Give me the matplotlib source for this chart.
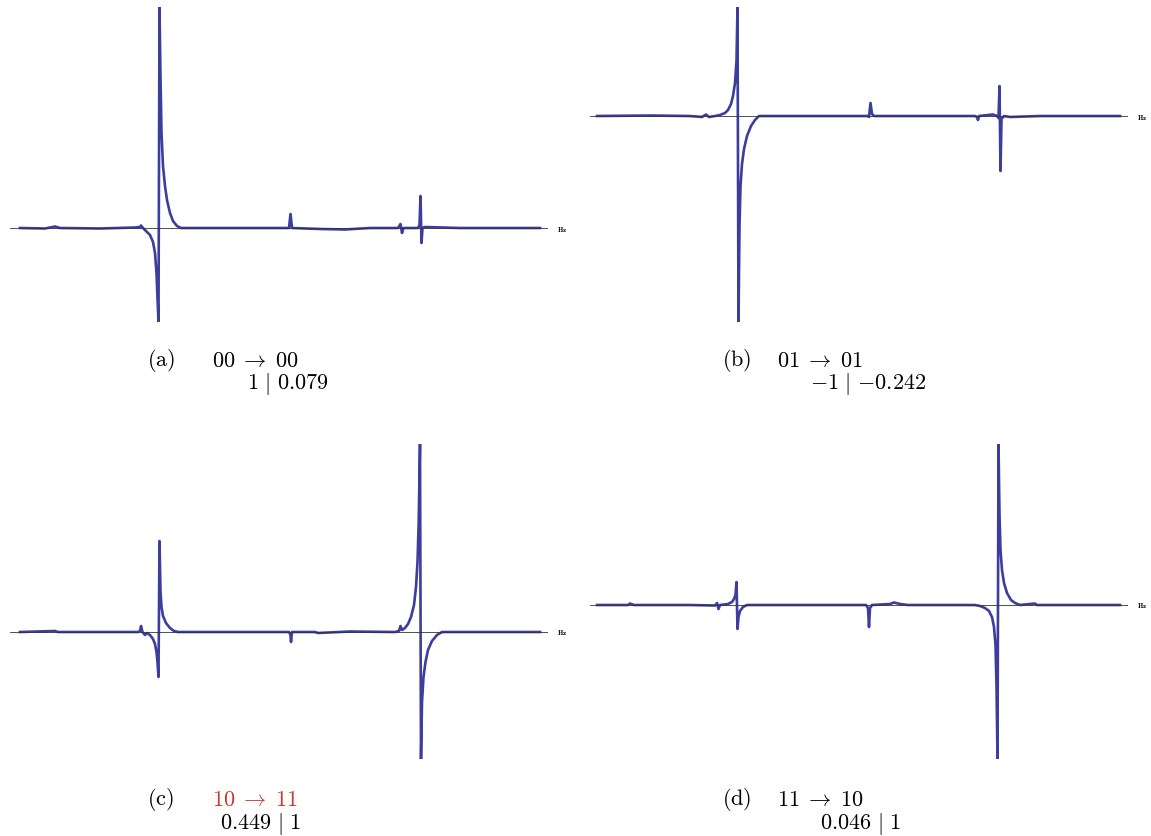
import matplotlib.pyplot as plt
from matplotlib import transforms

plt.rcParams['mathtext.fontset'] = 'cm'

# ---- Spectra (frequency in arbitrary units, signal in arbitrary units)
freq_a = [10, 35, 45, 50, 90, 125, 130, 131, 133, 136, 140, 143, 145, 146.5, 147.5, 148.5,
          149.5, 150.5, 151.5, 153, 155, 157, 160, 163, 167, 171, 200, 240, 279, 280.5, 282,
          310, 335, 360, 388, 390.5, 392, 393.5, 408, 409.5, 410.5, 411.5, 412.5, 415, 450,
          490, 530]
sig_a = [0, -0.5, 1.5, 0, -0.5, 0.5, 1, 2.5, 0, -3, -7, -14, -25, -45, -70, -94,
         221, 150, 95, 62, 42, 28, 15, 7, 2, 0, 0, 0, 0, 14, 0,
         -1, -1.5, 0, 0, 4, -5, 0, 0, 3, 32, -15, 0, 1, 0,
         0, 0]

freq_b = [7, 60, 100, 112, 116, 119, 125, 130, 135, 138, 141, 143, 145, 146.5, 147.5, 148.5,
          149.5, 150.5, 152, 154, 157, 161, 165, 169, 220, 278, 279, 280.5, 282, 284, 330,
          385, 387, 388, 389, 398, 403, 407, 408.5, 409.5, 410.5, 411.5, 414, 420, 450, 490,
          530]
sig_b = [0, 0.5, 0, -1, 1.5, -1, 0, 1, 3, 6, 12, 20, 33, 55, 109, -206,
         -110, -70, -48, -33, -20, -10, -4, 0, 0, 0, -1, 13, 2, 0, 0,
         0, -1, -4, 0, 1, 1.5, 0, -2, 30, -55, -3, 0, -1, 0, 0,
         0]

freq_c = [10, 45, 48, 100, 128, 130, 131, 132.5, 135, 137, 140, 143, 145, 146.5, 147.5, 148.5,
          149.5, 150.5, 151.5, 153, 156, 160, 164, 168, 220, 279, 280.5, 281, 282, 305, 308,
          340, 385, 389, 390.5, 392, 395, 398, 401, 404, 406, 407.5, 408.7, 410, 411, 412,
          413.5, 415.5, 418, 422, 427, 432, 470, 530]
sig_c = [0, 1, 0, 0, 0, 1, 6, 0, -3, -1, -3, -7, -12, -20, -30, -45,
         91, 40, 25, 16, 9, 4, 1, 0, 0, 0, -3, -10, 0, 0, -1,
         0.5, 0, 1, 6, 2, 4, 8, 15, 27, 45, 70, 110, 188, -127, -70,
         -45, -30, -18, -9, -3, 0, 0, 0]

freq_d = [7, 38, 40, 44, 100, 125, 127, 128.5, 130, 138, 142, 144, 145.5, 146.5, 147.5, 148.5,
          150, 153, 157, 200, 250, 276, 278, 279, 280, 282, 300, 304, 310, 318, 360, 385,
          390, 395, 399, 402, 404, 405.5, 406.5, 407.5, 408.5, 409.5, 410.5, 412, 414, 417,
          421, 425, 430, 445, 447, 490, 530]
sig_d = [0, 0, 1.5, 0, 0, -0.5, 2, -4, 0, 1, 3, 6, 10, 23, -24, -12,
         -6, -2, 0, 0, 0, 0, -3, -22, -3, 0, 1, 2.5, 1, 0, 0, 0,
         -1, -3, -6, -12, -22, -40, -80, -154, 161, 90, 55, 35, 22, 12,
         5, 2, 0, 1.5, 0, 0, 0]

panel_tags = ["(a)", "(b)", "(c)", "(d)"]
transitions = [r"00\;\rightarrow\;00", r"01\;\rightarrow\;01", r"10\;\rightarrow\;11", r"11\;\rightarrow\;10"]
ratios = [r"1\ |\ 0.079", r"{-1}\ |\ {-0.242}", r"0.449\ |\ 1", r"0.046\ |\ 1"]
trans_colors = ["black", "black", "#c8392e", "black"]

spectra = [(freq_a, sig_a), (freq_b, sig_b), (freq_c, sig_c), (freq_d, sig_d)]

# ---- Layout (pixels of a 1151x837 figure)
W, H = 1151, 837
fig = plt.figure(figsize=(W / 100, H / 100), dpi=100)

boxes = [(10, 8, 538, 315), (590, 8, 538, 315), (10, 445, 538, 315), (590, 445, 538, 315)]
cap_pos = [(147, 212, 247, 361, 384), (722, 777, 810, 361, 384),
           (147, 212, 220, 800, 824), (722, 777, 820, 800, 824)]

for i, (x, y) in enumerate(spectra):
    l, t, w, h = boxes[i]
    ax = fig.add_axes([l / W, 1 - (t + h) / H, w / W, h / H])
    ax.plot(x, y, color="#3d3d9e", lw=1.9, solid_joinstyle="round", zorder=2)
    ax.axhline(0, color="#333333", lw=0.6, zorder=3)
    ax.set_xlim(0, 538)
    ax.set_ylim(min(y), max(y))
    ax.axis("off")
    tr = transforms.blended_transform_factory(ax.transAxes, ax.transData)
    ax.text(1.016, 0, r"$\mathbf{Hz}$", transform=tr, fontsize=5, va="center", ha="left")

    xt, xm, xr, y1, y2 = cap_pos[i]
    fig.text(xt / W, 1 - y1 / H, r"$\mathrm{" + panel_tags[i] + "}$", fontsize=16, va="center")
    fig.text(xm / W, 1 - y1 / H, "$" + transitions[i] + "$", fontsize=16, va="center",
             color=trans_colors[i])
    fig.text(xr / W, 1 - y2 / H, "$" + ratios[i] + "$", fontsize=16, va="center")

fig.savefig("out.png", dpi=100)
